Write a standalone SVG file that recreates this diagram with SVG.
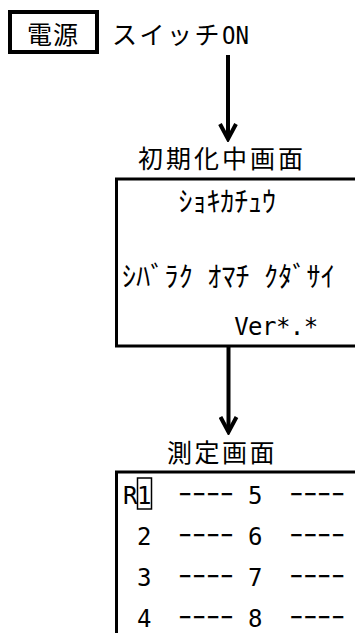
<svg xmlns="http://www.w3.org/2000/svg" width="355" height="633" viewBox="0 0 355 633">
<style>
.box{fill:none;stroke:#000;stroke-width:3}
.jp{font-family:"Noto Sans CJK JP",sans-serif;fill:#000}
.kana{font-family:"Noto Sans CJK JP",sans-serif;fill:#000;font-size:28px}
.mono{font-family:"DejaVu Sans Mono",monospace;fill:#000}
.ln{stroke:#000;stroke-width:4;fill:none}
</style>
<defs>
<marker id="ah" viewBox="0 0 20 20" markerWidth="20" markerHeight="20" refX="17" refY="10" orient="auto" markerUnits="userSpaceOnUse">
<path d="M2,2 L17,10 L2,18" fill="none" stroke="#000" stroke-width="4"/>
</marker>
</defs>
<rect width="355" height="633" fill="#fff"/>
<g id="power">
<rect x="10" y="12" width="87" height="40" fill="none" stroke="#000" stroke-width="4"/>
<text class="jp" x="27" y="44" font-size="25" letter-spacing="1">電源</text>
</g>
<g id="switch-on">
<text class="jp" x="112 139.5 167 194.5" y="44" font-size="25">スイッチ</text>
<text class="mono" x="222" y="44" font-size="24" textLength="27" lengthAdjust="spacingAndGlyphs">ON</text>
</g>
<g id="connectors">
<line class="ln" x1="228" y1="55" x2="228" y2="139" marker-end="url(#ah)"/>
<line class="ln" x1="228.5" y1="347" x2="228.5" y2="432" marker-end="url(#ah)"/>
</g>
<g id="init-screen">
<text class="jp" x="138" y="168" font-size="25" letter-spacing="3">初期化中画面</text>
<rect class="box" x="116.5" y="179" width="300" height="167"/>
<text class="kana" x="178.6 192.5 206.4 220.3 234.2 248.1 262" y="212">ｼｮｷｶﾁｭｳ</text>
<text class="kana" x="122 136.2 150.4 164.6 178.8 193 207.2 221.4 235.6 249.8 264 278.2 292.4 306.6 320.8" y="287">ｼﾊﾞﾗｸ ｵﾏﾁ ｸﾀﾞｻｲ</text>
<text class="mono" x="234.2 248.1 262 275.9 289.8 303.7" y="335" font-size="24">Ver*.*</text>
</g>
<g id="measure-screen">
<text class="jp" x="167" y="462" font-size="25" letter-spacing="2.5">測定画面</text>
<rect class="box" x="116.5" y="472" width="300" height="200"/>
<rect x="137.5" y="478" width="14" height="31" fill="none" stroke="#000" stroke-width="1.5"/>
<text class="mono" x="123 137" y="504" font-size="24">R1</text>
<text class="mono" x="137" y="545" font-size="24">2</text>
<text class="mono" x="137" y="586" font-size="24">3</text>
<text class="mono" x="137" y="627" font-size="24">4</text>
<text class="mono" x="248" y="504" font-size="24">5</text>
<text class="mono" x="248" y="545" font-size="24">6</text>
<text class="mono" x="248" y="586" font-size="24">7</text>
<text class="mono" x="248" y="627" font-size="24">8</text>
<text class="jp" x="178.6 192.5 206.4 220.3" y="504" font-size="26">ｰｰｰｰ</text>
<text class="jp" x="178.6 192.5 206.4 220.3" y="545" font-size="26">ｰｰｰｰ</text>
<text class="jp" x="178.6 192.5 206.4 220.3" y="586" font-size="26">ｰｰｰｰ</text>
<text class="jp" x="178.6 192.5 206.4 220.3" y="627" font-size="26">ｰｰｰｰ</text>
<text class="jp" x="289.8 303.7 317.6 331.5" y="504" font-size="26">ｰｰｰｰ</text>
<text class="jp" x="289.8 303.7 317.6 331.5" y="545" font-size="26">ｰｰｰｰ</text>
<text class="jp" x="289.8 303.7 317.6 331.5" y="586" font-size="26">ｰｰｰｰ</text>
<text class="jp" x="289.8 303.7 317.6 331.5" y="627" font-size="26">ｰｰｰｰ</text>
</g>
</svg>
